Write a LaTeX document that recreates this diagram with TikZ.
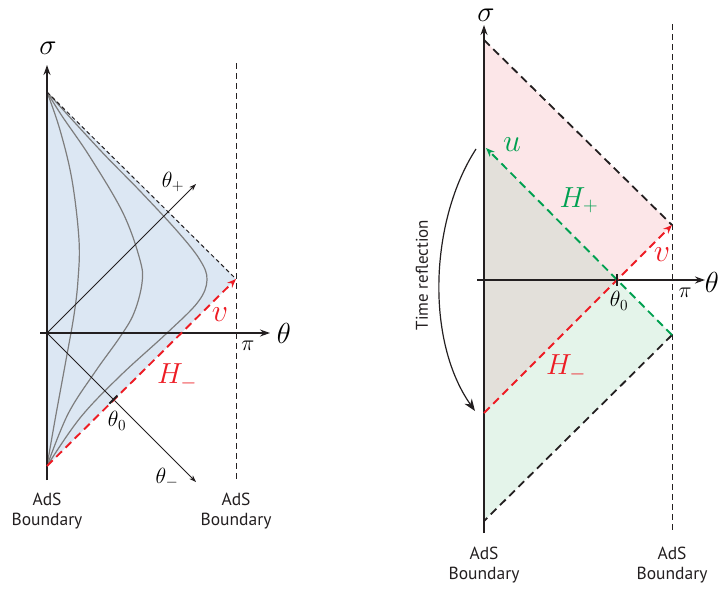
\RequirePackage{fix-cm}
\documentclass[tikz,border=0pt]{standalone}
\usepackage{amsmath,amssymb}
\usepackage{fontspec}
\setsansfont{PT Sans}
\usetikzlibrary{arrows.meta,positioning,calc}
\definecolor{adsblue}{RGB}{220,231,243}
\definecolor{adspink}{RGB}{252,230,232}
\definecolor{adsgray}{RGB}{227,224,218}
\definecolor{adsgreen}{RGB}{228,244,234}
\definecolor{hred}{RGB}{237,28,36}
\definecolor{hgreen}{RGB}{0,160,80}
\definecolor{axgray}{RGB}{35,31,32}
\definecolor{curvegray}{RGB}{125,125,125}

\begin{document}
\begin{tikzpicture}[x=1pt,y=-1pt,
    axis/.style={draw=axgray, line width=1.5pt, -{Stealth[length=10pt,width=7pt]}},
    thinaxis/.style={draw=axgray, line width=1pt, -{Stealth[length=7pt,width=5pt]}},
    bdry/.style={draw=axgray, line width=1pt, dash pattern=on 6pt off 4pt},
    edge/.style={draw=axgray, line width=1.8pt, dash pattern=on 8pt off 5pt},
    hline/.style={line width=1.9pt, dash pattern=on 8pt off 5pt},
    geod/.style={draw=curvegray, line width=1.2pt},
    bigmath/.style={inner sep=1pt, font=\fontsize{29}{33}\selectfont},
    uvmath/.style={inner sep=1pt, font=\fontsize{32}{36}\selectfont},
    smallmath/.style={inner sep=1pt, font=\fontsize{22}{26}\selectfont},
    adslabel/.style={align=center, font=\sffamily\fontsize{17.5}{20}\selectfont, text=axgray}]
  \useasboundingbox (0,0) rectangle (719,592);

  % left: one patch with geodesics
  \coordinate (T1) at (47,92);
  \coordinate (B1) at (47,466);
  \coordinate (R1) at (236,279);
  \coordinate (O1) at (47,333);
  \fill[adsblue] (T1) -- (R1) -- (B1) -- cycle;
  \draw[geod] plot[smooth, tension=0.6] coordinates
    {(47,92) (60,130) (72,180) (79,240) (78,280) (74,315) (66,360) (55,420) (47,466)};
  \draw[geod] plot[smooth, tension=0.6] coordinates
    {(47,92) (62,116) (90,157) (123,213) (140,260) (142,283) (134,313) (120,337) (95,372) (68,414) (47,466)};
  \draw[geod] plot[smooth, tension=0.6] coordinates
    {(47,92) (100,150) (140,191) (178,232) (200,260) (207,280) (198,302) (167,333) (120,376) (80,418) (47,466)};
  \coordinate (L1a) at (236,63);
  \coordinate (L1b) at (236,480);
  \draw[bdry] (L1a) -- (L1b);
  \draw[axgray, line width=1pt, dash pattern=on 4pt off 3pt] (T1) -- (R1);
  \coordinate (V1a) at (47,480);
  \coordinate (V1b) at (47,65);
  \coordinate (H1a) at (40,333);
  \coordinate (H1b) at (270,333);
  \draw[axis] (V1a) -- (V1b);
  \draw[axis] (H1a) -- (H1b);
  \coordinate (Tp) at (196,184);
  \coordinate (Tm) at (196,482);
  \draw[thinaxis] (O1) -- (Tp);
  \draw[thinaxis] (O1) -- (Tm);
  \draw[hline, hred, -{Stealth[length=9pt,width=7pt]}] (B1) -- (R1);
  \coordinate (K1) at (113.5,399.5);
  \draw[axgray, line width=2pt] ($(K1)+(-4,4)$) -- ($(K1)+(4,-4)$);
  \node[bigmath] (sig1) at (48,48) {$\sigma$};
  \node[bigmath] (th1) at (284,333) {$\theta$};
  \node[smallmath] (thp) at (173,182) {$\theta_+$};
  \node[smallmath] (thm) at (167,478) {$\theta_-$};
  \node[smallmath] (th01) at (117,421) {$\theta_0$};
  \node[smallmath] (pi1) at (248,346) {$\pi$};
  \node[uvmath, text=hred] (v1) at (220,315) {$v$};
  \node[bigmath, text=hred] (Hm1) at (177,377) {$H_-$};
  \node[adslabel] (ads1) at (47,511) {AdS\\Boundary};
  \node[adslabel] (ads2) at (236,511) {AdS\\Boundary};

  % right: reflected patch
  \coordinate (O2) at (617,280);
  \coordinate (T2) at (484,40);
  \coordinate (UR) at (672,225);
  \coordinate (LR) at (672,335);
  \coordinate (U2) at (484,146);
  \coordinate (M2) at (484,413);
  \coordinate (B2) at (484,521);
  \fill[adspink] (T2) -- (UR) -- (O2) -- (U2) -- cycle;
  \fill[adsgray] (U2) -- (O2) -- (M2) -- cycle;
  \fill[adsgreen] (O2) -- (LR) -- (B2) -- (M2) -- cycle;
  \coordinate (L2a) at (672,24);
  \coordinate (L2b) at (672,533);
  \draw[bdry] (L2a) -- (L2b);
  \draw[edge] (T2) -- (UR);
  \draw[edge] (LR) -- (B2);
  \coordinate (V2a) at (484,533);
  \coordinate (V2b) at (484,25);
  \coordinate (H2a) at (477,280);
  \coordinate (H2b) at (705,280);
  \draw[axis] (V2a) -- (V2b);
  \draw[axis] (H2a) -- (H2b);
  \coordinate (Uend) at (486,148);
  \draw[hline, hgreen, -{Stealth[length=9pt,width=7pt]}] (LR) -- (Uend);
  \draw[hline, hred, -{Stealth[length=9pt,width=7pt]}] (M2) -- (UR);
  \draw[axgray, line width=2pt] ($(O2)+(0,-6)$) -- ($(O2)+(0,6)$);
  \coordinate (Ra) at (476,149);
  \coordinate (Rb) at (475,411);
  \draw[axgray, line width=1.2pt, -{Stealth[length=12pt,width=9pt]}]
    (Ra) .. controls (430,220) and (425,340) .. (Rb);
  \node[rotate=90, font=\sffamily\fontsize{17}{20}\selectfont, text=axgray] (tr) at (422,275) {Time reflection};
  \node[bigmath, inner sep=0pt] (sig2) at (486,15) {$\sigma$};
  \node[bigmath, anchor=east, inner sep=0pt] (th2) at (719,282) {$\theta$};
  \node[uvmath, text=hgreen] (u2) at (512,145) {$u$};
  \node[bigmath, text=hgreen] (Hp2) at (579,200) {$H_+$};
  \node[uvmath, text=hred] (v2) at (662,255) {$v$};
  \node[smallmath] (th02) at (619,301) {$\theta_0$};
  \node[smallmath] (pi2) at (685,293) {$\pi$};
  \node[bigmath, text=hred] (Hm2) at (566,368) {$H_-$};
  \node[adslabel] (ads3) at (484,565) {AdS\\Boundary};
  \node[adslabel] (ads4) at (672,565) {AdS\\Boundary};
\end{tikzpicture}
\end{document}
